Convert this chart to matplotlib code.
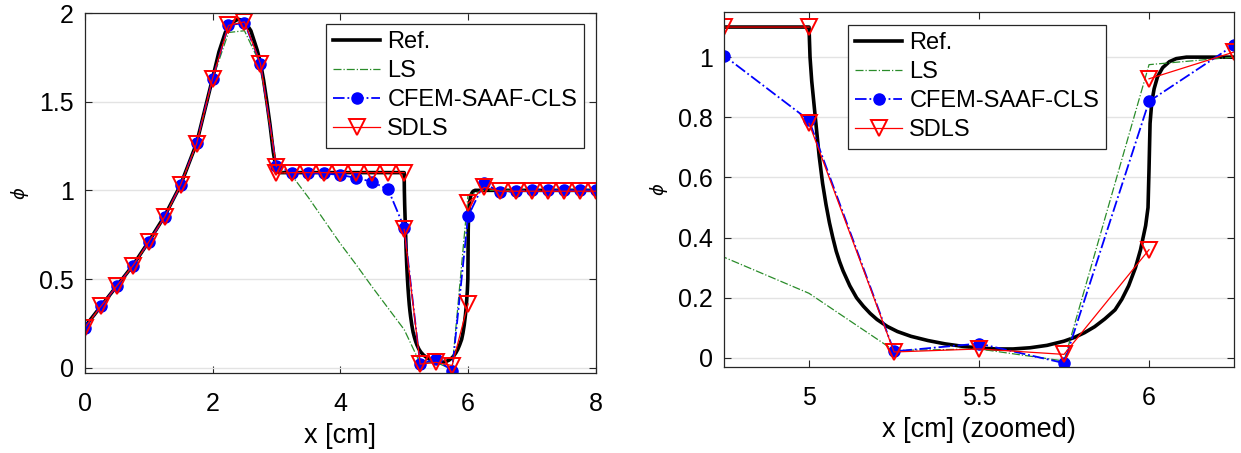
import matplotlib
matplotlib.use("Agg")
import matplotlib.pyplot as plt
from matplotlib.ticker import FormatStrFormatter

plt.rcParams['font.family'] = ['Liberation Sans', 'DejaVu Sans']
plt.rcParams['mathtext.fontset'] = 'dejavusans'

# reference solution
x_ref = [0, 0.25, 0.5, 0.75, 1.0, 1.25, 1.5, 1.75, 2.0, 2.1, 2.2, 2.3, 2.4, 2.5,
         2.6, 2.7, 2.75, 2.8, 2.85, 2.9, 2.95, 3.0, 3.05, 4.0, 5.0,
         5.003, 5.008, 5.015, 5.022, 5.03, 5.04, 5.05, 5.06, 5.07, 5.08, 5.09,
         5.10, 5.12, 5.14, 5.16, 5.18, 5.20, 5.23, 5.26, 5.30, 5.35, 5.40, 5.45,
         5.50, 5.55, 5.60, 5.65, 5.70, 5.75, 5.78, 5.81, 5.84, 5.87, 5.90, 5.92,
         5.94, 5.96, 5.975, 5.99, 5.997, 6.0, 6.003, 6.008, 6.015, 6.025, 6.04,
         6.06, 6.08, 6.11, 7.0, 8.0]
y_ref = [0.23, 0.345, 0.46, 0.575, 0.71, 0.855, 1.03, 1.265, 1.63, 1.78, 1.89, 1.945,
         1.965, 1.955, 1.90, 1.79, 1.72, 1.62, 1.50, 1.37, 1.22, 1.11, 1.10, 1.10,
         1.10,
         1.0, 0.92, 0.84, 0.76, 0.67, 0.58, 0.51, 0.45, 0.40, 0.355, 0.32,
         0.29, 0.24, 0.20, 0.172, 0.148, 0.128, 0.105, 0.088, 0.072, 0.058, 0.047, 0.039,
         0.033, 0.030, 0.030, 0.034, 0.042, 0.056, 0.068, 0.084, 0.104, 0.13, 0.16, 0.195,
         0.24, 0.30, 0.36, 0.44, 0.50, 0.63, 0.78, 0.85, 0.895, 0.935, 0.965,
         0.985, 0.995, 1.0, 1.0, 1.0]

# mesh nodes
x_nodes = [0, 0.25, 0.5, 0.75, 1.0, 1.25, 1.5, 1.75, 2.0, 2.25, 2.5, 2.75, 3.0,
           3.25, 3.5, 3.75, 4.0, 4.25, 4.5, 4.75, 5.0, 5.25, 5.5, 5.75, 6.0,
           6.25, 6.5, 6.75, 7.0, 7.25, 7.5, 7.75, 8.0]

y_ls = [0.225, 0.345, 0.46, 0.573, 0.708, 0.85, 1.03, 1.262, 1.625, 1.89, 1.90,
        1.71, 1.12, 1.08, 0.96, 0.83, 0.70, 0.58, 0.455, 0.335, 0.215, 0.025,
        0.03, -0.01, 0.975, 1.0, 1.0, 1.0, 1.0, 1.0, 1.0, 1.0, 1.0]

y_cfem = [0.225, 0.345, 0.46, 0.573, 0.708, 0.85, 1.03, 1.265, 1.63, 1.93, 1.945,
          1.715, 1.135, 1.10, 1.10, 1.095, 1.087, 1.07, 1.048, 1.005, 0.79, 0.022,
          0.048, -0.017, 0.853, 1.04, 0.99, 0.995, 1.0, 1.0, 1.0, 1.0, 1.0]

# SDLS is discontinuous: some nodes carry two values (left / right element)
x_sdls = [0, 0.25, 0.5, 0.75, 1.0, 1.25, 1.5, 1.75, 2.0, 2.25, 2.5, 2.75, 3.0, 3.0,
          3.25, 3.5, 3.75, 4.0, 4.25, 4.5, 4.75, 5.0, 5.0, 5.25, 5.5, 5.75, 6.0,
          6.0, 6.25, 6.5, 6.75, 7.0, 7.25, 7.5, 7.75, 8.0]
y_sdls = [0.225, 0.345, 0.46, 0.573, 0.708, 0.85, 1.03, 1.262, 1.63, 1.93, 1.95,
          1.715, 1.134, 1.097, 1.10, 1.10, 1.10, 1.10, 1.10, 1.10, 1.10, 1.10, 0.78,
          0.02, 0.03, 0.012, 0.36, 0.928, 1.017, 0.995, 0.995, 0.995, 0.995,
          0.995, 0.995, 0.995]

# break the line at the jumps so no vertical connectors are drawn
xs, ys = [], []
for i in range(len(x_sdls)):
    if i > 0 and x_sdls[i] == x_sdls[i-1]:
        xs.append(float('nan'))
        ys.append(float('nan'))
    xs.append(x_sdls[i])
    ys.append(y_sdls[i])

fig = plt.figure(figsize=(12.41, 4.53), dpi=100)
ax1 = fig.add_axes([0.0683, 0.1766, 0.4118, 0.7947])
ax2 = fig.add_axes([0.5834, 0.1898, 0.4110, 0.7837])

fs = 18
for ax in (ax1, ax2):
    ax.plot(x_ref, y_ref, color='black', lw=2.6, label='Ref.')
    ax.plot(x_nodes, y_ls, color='#2a8c2a', lw=0.9, ls='-.', label='LS')
    ax.plot(x_nodes, y_cfem, color='blue', lw=1.3, ls='-.', marker='o',
            ms=8, label='CFEM-SAAF-CLS')
    ax.plot(xs, ys, color='red', lw=0.9, marker='v', ms=11,
            mfc='none', mew=1.4, label='SDLS')
    ax.grid(axis='y', color='#e3e3e3', lw=1)
    ax.set_axisbelow(True)
    ax.tick_params(direction='in', top=True, right=True, length=5,
                   labelsize=fs, color='#262626', pad=8)
    ax.tick_params(axis='x', pad=14)
    for s in ax.spines.values():
        s.set_color('#262626')
        s.set_linewidth(0.9)
    ax.set_ylabel(r'$\phi$', fontsize=13, labelpad=6)
    ax.yaxis.set_major_formatter(FormatStrFormatter('%g'))
    ax.xaxis.set_major_formatter(FormatStrFormatter('%g'))

ax1.set_xlim(0, 8)
ax1.set_ylim(-0.03, 2)
ax1.set_xticks([0, 2, 4, 6, 8])
ax1.set_yticks([0, 0.5, 1, 1.5, 2])
ax1.set_xlabel('x [cm]', fontsize=19.5, labelpad=5)

ax2.set_xlim(4.75, 6.25)
ax2.set_ylim(-0.03, 1.15)
ax2.set_xticks([5, 5.5, 6])
ax2.set_yticks([0, 0.2, 0.4, 0.6, 0.8, 1])
ax2.set_xlabel('x [cm] (zoomed)', fontsize=19.5, labelpad=5)

for ax, anchor in ((ax1, (0.472, 0.969)), (ax2, (0.243, 0.963))):
    leg = ax.legend(loc='upper left', bbox_to_anchor=anchor, fontsize=17,
                    frameon=True, fancybox=False, framealpha=1,
                    edgecolor='#262626', handlelength=2.0, handletextpad=0.3,
                    labelspacing=0.3, borderpad=0.3, borderaxespad=0)
    leg.get_frame().set_linewidth(0.9)

fig.savefig('out.png', dpi=100)
